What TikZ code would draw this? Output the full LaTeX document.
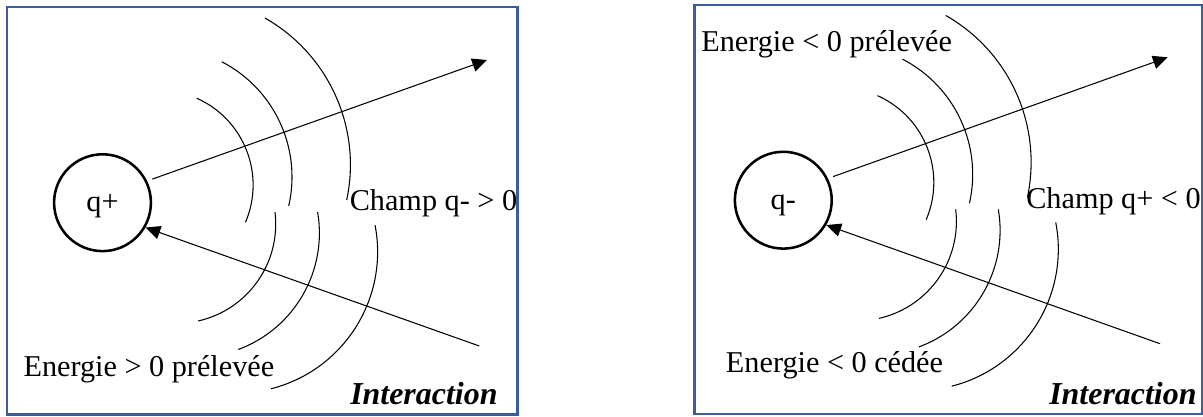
\documentclass[tikz,border=0pt]{standalone}
\usepackage{fontspec}
\setmainfont{Liberation Serif}
\usetikzlibrary{arrows.meta}

\definecolor{framecol}{RGB}{59,93,160}

\begin{document}
\begin{tikzpicture}[
  x=0.025cm, y=-0.025cm,
  font=\fontsize{21.5}{25}\selectfont,
  panel/.style={draw=framecol, line width=1.7pt},
  charge/.style={draw, circle, line width=1.8pt, minimum size=2.42cm, inner sep=0pt,
    text height=15pt, text depth=2.2pt},
  wave/.style={line width=0.75pt},
  arr/.style={-{Triangle[length=10.5pt,width=9.5pt]}, line width=0.75pt},
  lbl/.style={anchor=base west, inner sep=0pt},
  bold/.style={lbl, font=\fontsize{22.7}{26}\selectfont\bfseries\itshape}
]
\useasboundingbox (0,0) rectangle (1203,416);

% left panel: q+
\draw[panel] (6.7,6.7) rectangle (517.3,414.3);
\node[charge] (qp) at (102.5,202.7) {q+};
\coordinate (outL) at (487,60);
\coordinate (inL) at (479.3,346);
\draw[arr, shorten <=3.9pt] (qp.26) -- (outL);
\draw[arr] (inL) -- (qp.-30);
\node[lbl] (champL) at (349.5,210) {Champ q- > 0};
\node[lbl] (energieL) at (23.3,376) {Energie > 0 prélevée};
\node[bold] (interL) at (350,404.3) {Interaction};

% right panel: q-
\draw[panel] (694.3,5.3) rectangle (1202,414);
\node[charge] (qm) at (783.3,200.2) {q-};
\coordinate (outR) at (1167.7,57.3);
\coordinate (inR) at (1160,343.7);
\draw[arr, shorten <=3.9pt] (qm.26) -- (outR);
\draw[arr] (inR) -- (qm.-30);
\node[lbl] (prelR) at (701,51.7) {Energie < 0 prélevée};
\node[lbl] (champR) at (1026,208) {Champ q+ < 0};
\node[lbl] (cedeR) at (725.7,372) {Energie < 0 cédée};
\node[bold] (interR) at (1049,404) {Interaction};

% field ripples, same in both panels
\foreach \dx/\dy in {0/0, 680.7/-2.6} {
  \begin{scope}[shift={(\dx,\dy)}]
    \draw[wave] (158.1,185) ++(-66:95) arc[start angle=-66, end angle=23.1, radius=95];
    \draw[wave] (162.3,177) ++(-62.7:129.7) arc[start angle=-62.7, end angle=12.9, radius=129.7];
    \draw[wave] (181.6,164.8) ++(-60.4:168.8) arc[start angle=-60.4, end angle=12, radius=168.8];
    \draw[wave] (176.4,224.1) ++(-7:99.3) arc[start angle=-7, end angle=77.3, radius=99.3];
    \draw[wave] (195.2,233) ++(-9.7:124.2) arc[start angle=-9.7, end angle=69.7, radius=124.2];
    \draw[wave] (236.3,251.8) ++(-10.9:141.3) arc[start angle=-10.9, end angle=75.8, radius=141.3];
  \end{scope}
}
\end{tikzpicture}
\end{document}
